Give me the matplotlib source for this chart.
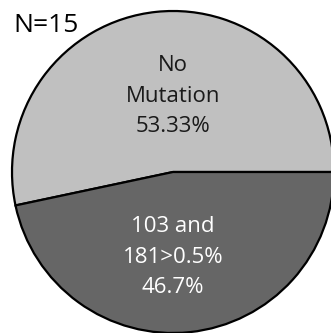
import matplotlib.pyplot as plt

labels = ["No\nMutation\n53.33%", "103 and\n181>0.5%\n46.7%"]
values = [53.33, 46.67]
colors = ["#c0c0c0", "#666666"]
text_colors = ["#1a1a1a", "white"]
label_y = [0.47, -0.53]
n_label = "N=15"

plt.rcParams["font.family"] = ["Open Sans", "DejaVu Sans"]

fig = plt.figure(figsize=(3.31, 3.33), dpi=100)
ax = fig.add_axes([0, 0, 1, 1])

# pie in pixel-ish units: center at (173, 172) px, radius 161 px
r = 161.0
ax.pie(values, colors=colors, startangle=0, counterclock=True,
       radius=1.0, center=(0, 0),
       wedgeprops=dict(edgecolor="black", linewidth=1.6))

for lab, y, c in zip(labels, label_y, text_colors):
    ax.text(0.0, y, lab, ha="center", va="center", fontsize=16,
            color=c, linespacing=1.6)

ax.text(-160 / r, 146 / r, n_label, ha="left", va="center", fontsize=19, color="black")

ax.set_xlim(-173 / r, (331 - 173) / r)
ax.set_ylim(-(333 - 172) / r, 172 / r)
ax.set_aspect("auto")
ax.axis("off")

fig.savefig("out.png", dpi=100)
